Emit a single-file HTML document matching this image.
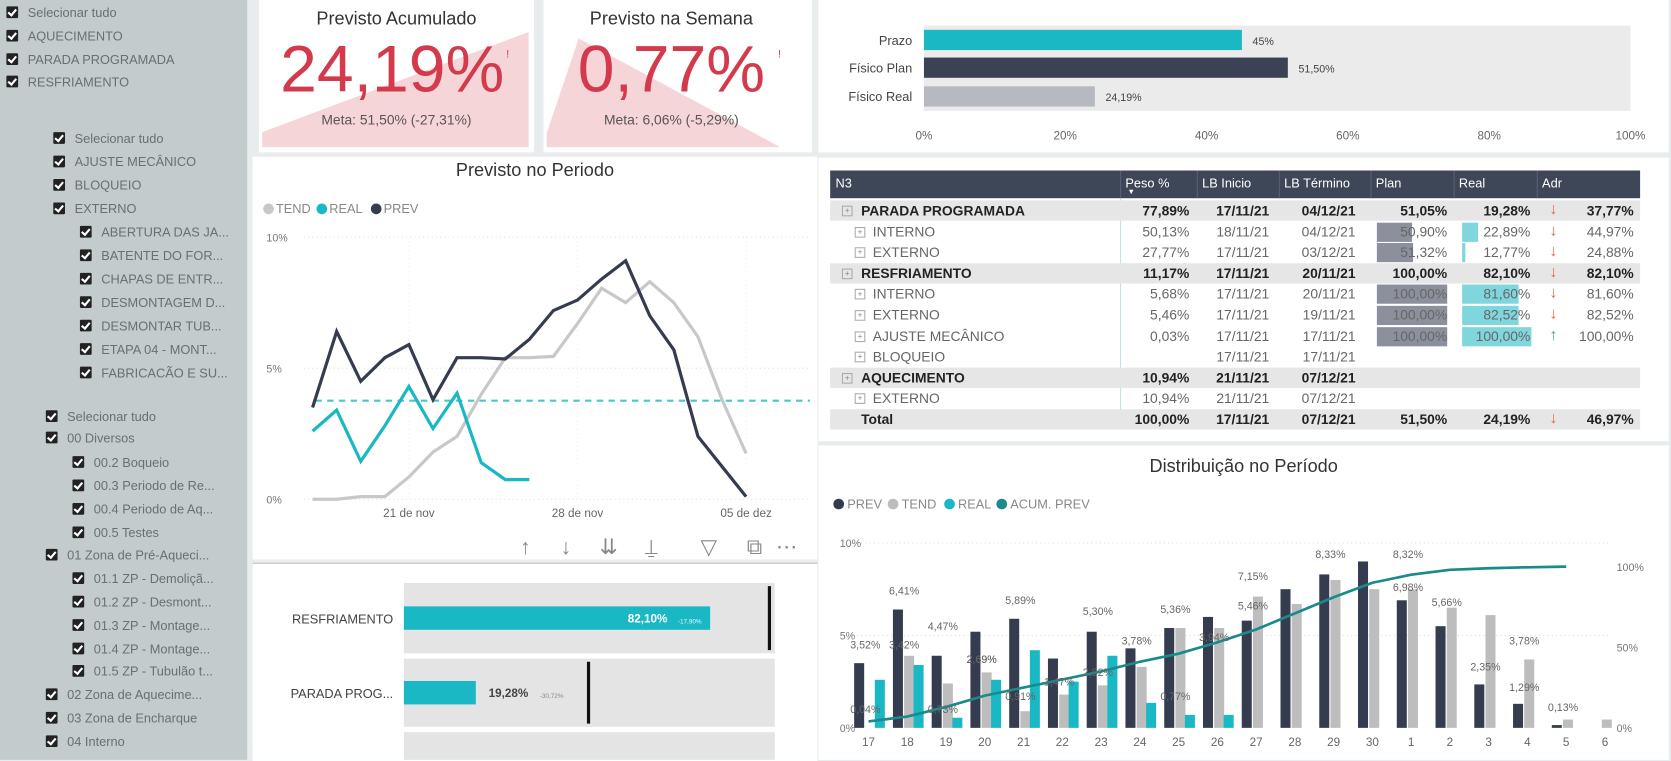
<!DOCTYPE html>
<html><head><meta charset="utf-8">
<style>
html,body{margin:0;padding:0;width:1671px;height:760px;overflow:hidden;background:#e9ecec;font-family:"Liberation Sans",sans-serif;}
#wrap{position:absolute;left:0;top:0;width:1568px;height:713px;transform:scale(1.06569);transform-origin:0 0;}
.abs{position:absolute;}
.card{position:absolute;background:#fff;}
.cb{position:absolute;width:11px;height:11px;background:#222;border-radius:1px;}
.cb:after{content:"";position:absolute;left:3px;top:1px;width:3px;height:6px;border:solid #fff;border-width:0 2px 2px 0;transform:rotate(40deg);}
.lt{position:absolute;font-size:12px;color:#6a6f70;white-space:nowrap;line-height:14px;}
.tr{position:absolute;left:779px;width:760px;height:19px;}
.c{position:absolute;top:2px;white-space:nowrap;}
.r{text-align:right;}
</style></head>
<body>
<div id="wrap">
<div class="abs" style="left:0;top:0;width:232px;height:713px;background:#c4cbcc;"></div>
<div id="filters"></div>

<div class="card" style="left:243px;top:0;width:258px;height:143px;">
 <svg class="abs" style="left:0;top:0" width="258" height="143"><polygon points="3,138 3,124 253,30 253,138" fill="#f6d5d9"/></svg>
 <div class="abs" style="left:0;width:258px;top:8px;text-align:center;font-size:17px;color:#333;">Previsto Acumulado</div>
 <div class="abs" style="left:0;width:250px;top:30px;text-align:center;font-size:62px;color:#d33a4c;">24,19%</div>
 <div class="abs" style="left:232px;top:46px;font-size:10px;color:#d33a4c;">!</div>
 <div class="abs" style="left:0;width:258px;top:105px;text-align:center;font-size:13px;color:#555;">Meta: 51,50% (-27,31%)</div>
</div>
<div class="card" style="left:510px;top:0;width:252px;height:143px;">
 <svg class="abs" style="left:0;top:0" width="252" height="143"><polygon points="3,138 3,125 33,36 222,138" fill="#f6d5d9"/></svg>
 <div class="abs" style="left:0;width:240px;top:8px;text-align:center;font-size:17px;color:#333;">Previsto na Semana</div>
 <div class="abs" style="left:0;width:240px;top:30px;text-align:center;font-size:62px;color:#d33a4c;">0,77%</div>
 <div class="abs" style="left:220px;top:46px;font-size:10px;color:#d33a4c;">!</div>
 <div class="abs" style="left:0;width:240px;top:105px;text-align:center;font-size:13px;color:#555;">Meta: 6,06% (-5,29%)</div>
</div>

<div class="card" style="left:768px;top:0;width:798px;height:143px;"></div>
<svg id="prog" class="abs" style="left:0;top:0" width="1568" height="143"></svg>

<div class="card" style="left:237px;top:147px;width:530px;height:378px;"></div>
<div class="abs" style="left:237px;width:530px;top:150px;text-align:center;font-size:17px;color:#333;">Previsto no Periodo</div>
<svg id="line" class="abs" style="left:0;top:0" width="1568" height="713"></svg>

<div class="card" style="left:237px;top:528px;width:530px;height:185px;border-top:1px solid #bbb;"></div>
<svg id="bullet" class="abs" style="left:0;top:0" width="1568" height="713"></svg>

<div class="card" style="left:768px;top:148px;width:798px;height:266px;"></div>
<div id="table"></div>

<div class="card" style="left:768px;top:418px;width:798px;height:295px;"></div>
<div class="abs" style="left:768px;width:798px;top:428px;text-align:center;font-size:17px;color:#333;">Distribuição no Período</div>
<svg id="dist" class="abs" style="left:0;top:0" width="1568" height="713"></svg>
</div>

<script>
const NS="http://www.w3.org/2000/svg";
function mk(parent,tag,attrs,txt){const e=document.createElementNS(NS,tag);for(const k in attrs)e.setAttribute(k,attrs[k]);if(txt!==undefined)e.textContent=txt;parent.appendChild(e);return e;}

const filterItems=[
[6,12,"Selecionar tudo"],[6,34,"AQUECIMENTO"],[6,56,"PARADA PROGRAMADA"],[6,77,"RESFRIAMENTO"],
[50,130,"Selecionar tudo"],[50,152,"AJUSTE MECÂNICO"],[50,174,"BLOQUEIO"],[50,196,"EXTERNO"],
[75,218,"ABERTURA DAS JA..."],[75,240,"BATENTE DO FOR..."],[75,262,"CHAPAS DE ENTR..."],[75,284,"DESMONTAGEM D..."],[75,306,"DESMONTAR TUB..."],[75,328,"ETAPA 04 - MONT..."],[75,350,"FABRICACÃO E SU..."],
[43,391,"Selecionar tudo"],[43,411,"00 Diversos"],[68,434,"00.2 Boqueio"],[68,456,"00.3 Periodo de Re..."],[68,478,"00.4 Periodo de Aq..."],[68,500,"00.5 Testes"],
[43,521,"01 Zona de Pré-Aqueci..."],[68,543,"01.1 ZP - Demoliçã..."],[68,565,"01.2 ZP - Desmont..."],[68,587,"01.3 ZP - Montage..."],[68,609,"01.4 ZP - Montage..."],[68,630,"01.5 ZP - Tubulão t..."],
[43,652,"02 Zona de Aquecime..."],[43,674,"03 Zona de Encharque"],[43,696,"04 Interno"]];
const fd=document.getElementById('filters');
filterItems.forEach(f=>{
 const c=document.createElement('div');c.className='cb';c.style.left=f[0]+'px';c.style.top=(f[1]-6)+'px';
 
 
 fd.appendChild(c);
 const t=document.createElement('div');t.className='lt';t.style.left=(f[0]+20)+'px';t.style.top=(f[1]-7)+'px';t.textContent=f[2];
 
 
 fd.appendChild(t);
});

const progCats=["Prazo","Físico Plan","Físico Real"];
const progVals=[45,51.5,24.19];
const progLabels=["45%","51,50%","24,19%"];
const progTicks=[0,20,40,60,80,100];
(function(){
 const s=document.getElementById('prog');
 const x=v=>867+v*6.63; const rowY=[28,54,81], h=19;
 const colors=["#1ab8c4","#3b4254","#b6b9bf"];
 progCats.forEach((c,i)=>{
  const tr=mk(s,'rect',{x:x(0),y:rowY[i]-4,width:x(100)-x(0),height:h+8,fill:'#ebebeb'});
  
  
  const b=mk(s,'rect',{x:x(0),y:rowY[i],width:x(progVals[i])-x(0),height:h,fill:colors[i]});
  
  
  const l=mk(s,'text',{x:856,y:rowY[i]+14,'text-anchor':'end','font-size':12,fill:'#444'},c);
  
  
  const v=mk(s,'text',{x:x(progVals[i])+10,y:rowY[i]+14,'font-size':10,fill:'#444'},progLabels[i]);
  
  
 });
 progTicks.forEach(t=>{
  const e=mk(s,'text',{x:x(t),y:131,'text-anchor':'middle','font-size':11,fill:'#666'},t+'%');
  
  
 });
})();

const lineDates=["17","18","19","20","21","22","23","24","25","26","27","28","29","30","1","2","3","4","5"];
const prevLine=[3.5,6.4,4.5,5.4,5.9,3.8,5.4,5.4,5.35,6.1,7.2,7.6,8.4,9.1,7.0,5.7,2.4,1.25,0.1];
const tendLine=[0,0,0.1,0.1,0.85,1.8,2.4,4.0,5.4,5.4,5.45,6.7,8.05,7.5,8.3,7.5,6.2,3.8,1.75];
const realLine=[2.6,3.4,1.45,2.8,4.3,2.7,4.05,1.4,0.75,0.75];
const realAvg=3.76;
const lineYTicks=[0,5,10];
const lineXLabels=[[4,"21 de nov"],[11,"28 de nov"],[18,"05 de dez"]];
(function(){
 const s=document.getElementById('line');
 const x=i=>293.3+i*22.6, y=v=>468.5-v*24.6;
 [["TEND","#c8c8c8",247],["REAL","#1ab8c4",297],["PREV","#353c4f",348]].forEach(l=>{
  const c=mk(s,'circle',{cx:l[2]+5,cy:196,r:5,fill:l[1]});
  
  
  const t=mk(s,'text',{x:l[2]+12,y:200,'font-size':12,fill:'#888'},l[0]);
  
  
 });
 lineYTicks.forEach(v=>{
  const g=mk(s,'line',{x1:285,x2:760,y1:y(v),y2:y(v),stroke:'#ddd','stroke-dasharray':'1,3'});
  
  
  const t=mk(s,'text',{x:250,y:y(v)+4,'font-size':10,fill:'#777'},v+'%');
  
  
 });
 lineXLabels.forEach(l=>{
  const g=mk(s,'line',{x1:x(l[0]),x2:x(l[0]),y1:y(10),y2:y(0),stroke:'#eee','stroke-dasharray':'1,3'});
  
  
  const t=mk(s,'text',{x:x(l[0]),y:485,'text-anchor':'middle','font-size':11,fill:'#666'},l[1]);
  
  
 });
 const avg=mk(s,'line',{x1:296,x2:760,y1:y(realAvg),y2:y(realAvg),stroke:'#4bc5c9','stroke-width':2,'stroke-dasharray':'6,5'});
 
 
 const pts=arr=>arr.map((v,i)=>x(i)+','+y(v)).join(' ');
 const t=mk(s,'polyline',{points:pts(tendLine),fill:'none',stroke:'#c8c8c8','stroke-width':3});
 
 
 const p=mk(s,'polyline',{points:pts(prevLine),fill:'none',stroke:'#353c4f','stroke-width':3});
 
 
 const r=mk(s,'polyline',{points:pts(realLine),fill:'none',stroke:'#1ab8c4','stroke-width':3});
 
 
 const icons=[[493,"↑"],[531,"↓"],[571,"⇊"],[611,"⍊"],[665,"▽"],[708,"⧉"],[738,"⋯"]];
 icons.forEach(ic=>{
  const e=mk(s,'text',{x:ic[0],y:520,'text-anchor':'middle','font-size':20,fill:'#888'},ic[1]);
  
  
 });
})();

const bulletCats=["RESFRIAMENTO","PARADA PROG...",""];
const bulletVals=[82.10,19.28];
const bulletLabels=["82,10%","19,28%"];
const bulletDelta=["-17,90%","-30,72%"];
const bulletTargets=[98,49.5];
(function(){
 const s=document.getElementById('bullet');
 const x=v=>379+v*3.5; const rows=[[547,66],[618,64],[687,30]];
 rows.forEach((r,i)=>{
  const tr=mk(s,'rect',{x:379,y:r[0],width:348,height:r[1],fill:'#e4e4e4'});
  
  
  if(bulletCats[i]){const l=mk(s,'text',{x:369,y:r[0]+r[1]/2+5,'text-anchor':'end','font-size':12,fill:'#444'},bulletCats[i]);
   
   }
 });
 bulletVals.forEach((v,i)=>{
  const r=rows[i]; const bh=22, by=r[0]+r[1]/2-bh/2;
  const b=mk(s,'rect',{x:379,y:by,width:x(v)-379,height:bh,fill:'#1ab8c4'});
  
  
  const inside=v>50;
  const lx=inside?x(v)-40:x(v)+12;
  const t=mk(s,'text',{x:lx,y:by+15,'font-size':11,'font-weight':'bold',fill:inside?'#fff':'#444','text-anchor':inside?'end':'start'},bulletLabels[i]);
  
  
  const d=mk(s,'text',{x:inside?x(v)-8:lx+48,y:by+16,'font-size':6,fill:inside?'#e0fbfc':'#888','text-anchor':inside?'end':'start'},bulletDelta[i]);
  
  
  const tg=mk(s,'line',{x1:x(bulletTargets[i]),x2:x(bulletTargets[i]),y1:r[0]+3,y2:r[0]+r[1]-3,stroke:'#111','stroke-width':3});
  
  
 });
})();

const tableRows=[
 ["g","PARADA PROGRAMADA","77,89%","17/11/21","04/12/21","51,05%","19,28%","d","37,77%",0,0],
 ["s","INTERNO","50,13%","18/11/21","04/12/21","50,90%","22,89%","d","44,97%",50.9,22.89],
 ["s","EXTERNO","27,77%","17/11/21","03/12/21","51,32%","12,77%","d","24,88%",51.32,5],
 ["g","RESFRIAMENTO","11,17%","17/11/21","20/11/21","100,00%","82,10%","d","82,10%",0,0],
 ["s","INTERNO","5,68%","17/11/21","20/11/21","100,00%","81,60%","d","81,60%",100,81.6],
 ["s","EXTERNO","5,46%","17/11/21","19/11/21","100,00%","82,52%","d","82,52%",100,82.52],
 ["s","AJUSTE MECÂNICO","0,03%","17/11/21","17/11/21","100,00%","100,00%","u","100,00%",100,100],
 ["s","BLOQUEIO","","17/11/21","17/11/21","","","","",0,0],
 ["g","AQUECIMENTO","10,94%","21/11/21","07/12/21","","","","",0,0],
 ["s","EXTERNO","10,94%","21/11/21","07/12/21","","","","",0,0],
 ["t","Total","100,00%","17/11/21","07/12/21","51,50%","24,19%","d","46,97%",0,0]];
(function(){
 const T=document.getElementById('table');
 const hdr=document.createElement('div');
 hdr.className='abs';hdr.style.cssText='left:779px;top:160px;width:760px;height:26px;background:#3d4758;';
 
 
 [["N3",5],["Peso %",277],["LB Inicio",349],["LB Término",426],["Plan",512],["Real",590],["Adr",668]].forEach(h=>{
  const d=document.createElement('div');d.className='abs';d.style.cssText='left:'+h[1]+'px;top:5px;color:#fff;font-size:12px;';d.textContent=h[0];
  
  
  hdr.appendChild(d);
 });
 [272,344,421,507,585,663].forEach(xx=>{const l=document.createElement('div');l.className='abs';l.style.cssText='left:'+xx+'px;top:0;width:1px;height:26px;background:#56617a;';hdr.appendChild(l);});
 const ar=document.createElement('div');ar.className='abs';ar.style.cssText='left:279px;top:17px;color:#fff;font-size:7px;';ar.textContent='▼';hdr.appendChild(ar);
 T.appendChild(hdr);
 const vl=document.createElement('div');vl.className='abs';vl.style.cssText='left:1051px;top:186px;width:1px;height:217px;background:#bfe3e6;';T.appendChild(vl);
 tableRows.forEach((r,i)=>{
  const top=188+i*19.6;
  const row=document.createElement('div');row.className='tr';row.style.top=top+'px';
  const bold=(r[0]!=='s');
  if(r[0]!=='s')row.style.background='#e6e6e6';
  
  
  const col='color:'+(bold?'#222':'#666')+';font-size:13px;'+(bold?'font-weight:bold;':'');
  let h='';
  if(r[9]>0)h+='<div class="abs" style="left:513px;top:1px;height:18px;width:'+(r[9]*0.655)+'px;background:#8c909d;"></div>';
  if(r[10]>0)h+='<div class="abs" style="left:593px;top:1px;height:18px;width:'+(r[10]*0.645)+'px;background:#7fd6dc;"></div>';
  const nx=(r[0]==='s')?40:29;
  if(r[0]!=='t')h+='<div class="abs" style="left:'+(r[0]==='s'?23:11)+'px;top:5px;width:8px;height:8px;border:1px solid #aaa;font-size:8px;line-height:8px;text-align:center;color:#888;">+</div>';
  h+='<div class="c" style="left:'+(r[0]==='t'?29:nx)+'px;'+col+'">'+r[1]+'</div>';
  const rc=[[r[2],337],[r[3],412],[r[4],493],[r[5],579],[r[6],657],[r[8],754]];
  rc.forEach(c=>{h+='<div class="c r" style="right:'+(760-c[1])+'px;'+col+'">'+c[0]+'</div>';});
  if(r[7])h+='<div class="c" style="left:675px;top:0;font-size:15px;font-weight:bold;color:'+(r[7]==='u'?'#3bb36a':'#f0643c')+';">'+(r[7]==='u'?'↑':'↓')+'</div>';
  row.innerHTML=h;
  T.appendChild(row);
 });
})();

const distDays=["17","18","19","20","21","22","23","24","25","26","27","28","29","30","1","2","3","4","5","6"];
const distPrev=[3.5,6.4,3.9,5.2,5.9,3.75,5.2,4.3,5.4,6.0,5.8,7.5,8.3,9.0,6.9,5.5,2.35,1.3,0.15,0];
const distTend=[0,3.9,2.4,3.0,0.9,1.8,2.3,3.3,5.4,5.4,7.1,6.7,8.0,7.5,7.5,6.5,6.1,3.7,0.45,0.45];
const distReal=[2.6,3.4,0.55,2.6,4.2,2.5,3.9,1.35,0.7,0.7];
const distAcum=[4,7,13,20,25,30,35,41,46,53,61,71,81,90,95,98,99,99.6,100];
const distLabelDays=[0,1,2,4,6,8,10,12,14,15,17,1,3,5,7,9,10,14,16,17,18,0,2,3,4,6,8];
const distLabelText=["3,52%","6,41%","4,47%","5,89%","5,30%","5,36%","7,15%","8,33%","8,32%","5,66%","3,78%","3,42%","2,69%","1,47%","3,78%","3,94%","5,46%","6,98%","2,35%","1,29%","0,13%","0,04%","0,73%","2,69%","0,91%","2,82%","0,77%"];
const distLabelVals=[4.3,7.2,5.3,6.7,6.1,6.2,8.0,9.2,9.2,6.6,4.5,4.3,3.5,2.3,4.5,4.7,6.4,7.4,3.1,2.0,0.9,0.8,0.8,3.5,1.5,2.8,1.5];
const distYTicks=[0,5,10];
const distY2Ticks=[0,50,100];
(function(){
 const s=document.getElementById('dist');
 const cx=i=>815+i*36.37, y=v=>683-v*17.35, y2=v=>683-v*1.513;
 [["PREV","#353c4f",782],["TEND","#bdbdbd",833],["REAL","#1ab8c4",886],["ACUM. PREV","#1a8a8a",935]].forEach(l=>{
  const c=mk(s,'circle',{cx:l[2]+5,cy:473,r:5,fill:l[1]});
  
  
  const t=mk(s,'text',{x:l[2]+13,y:477,'font-size':12,fill:'#888'},l[0]);
  
  
 });
 distYTicks.forEach(v=>{
  if(v>0){const g=mk(s,'line',{x1:800,x2:1510,y1:y(v),y2:y(v),stroke:'#ddd','stroke-dasharray':'1,3'});
  
  }
  const t=mk(s,'text',{x:788,y:y(v)+4,'font-size':10,fill:'#777'},v+'%');
  
  
 });
 distY2Ticks.forEach(v=>{
  const t=mk(s,'text',{x:1517,y:y2(v)+4,'font-size':10,fill:'#777'},v+'%');
  
  
 });
 distDays.forEach((d,i)=>{
  const t=mk(s,'text',{x:cx(i),y:700,'text-anchor':'middle','font-size':11,fill:'#666'},d);
  
  
 });
 distPrev.forEach((v,i)=>{
  const b=mk(s,'rect',{x:cx(i)-13.5,y:y(v),width:9.4,height:y(0)-y(v),fill:'#353c4f'});
  
  
 });
 distTend.forEach((v,i)=>{
  const b=mk(s,'rect',{x:cx(i)-3,y:y(v),width:9.4,height:y(0)-y(v),fill:'#bdbdbd'});
  
  
 });
 distReal.forEach((v,i)=>{
  const b=mk(s,'rect',{x:cx(i)+5.9,y:y(v),width:9.4,height:y(0)-y(v),fill:'#1ab8c4'});
  
  
 });
 const a=mk(s,'polyline',{points:distAcum.map((v,i)=>cx(i)+','+y2(v)).join(' '),fill:'none',stroke:'#1a8a8a','stroke-width':2.5});
 
 
 distLabelDays.forEach((d,i)=>{
  const t=mk(s,'text',{x:cx(d)-3,y:y(distLabelVals[i]),'text-anchor':'middle','font-size':10,fill:'#666'},distLabelText[i]);
  
  
 });
})();
</script>
</body></html>
